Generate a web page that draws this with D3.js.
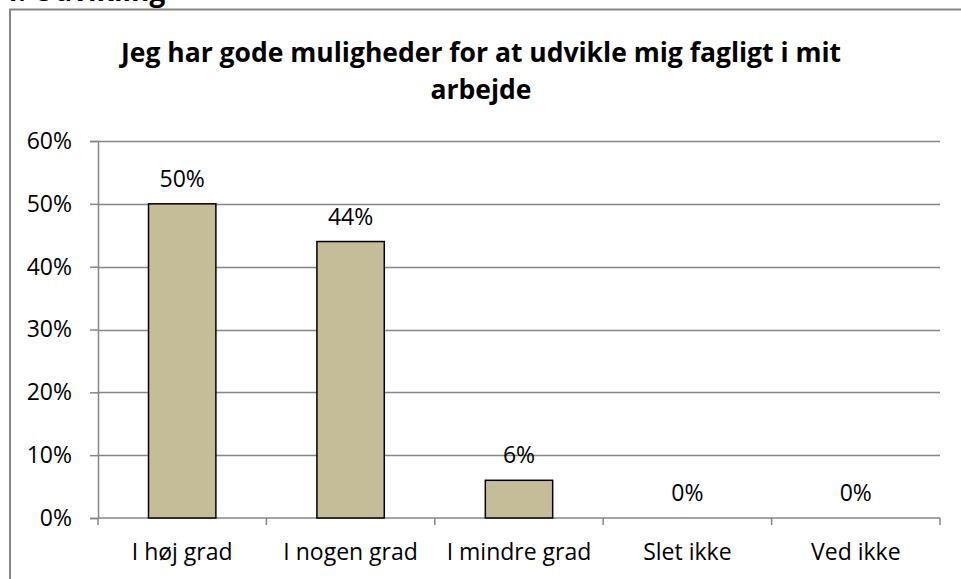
<!DOCTYPE html>
<html>
<head>
<meta charset="utf-8">
<script src="https://cdn.jsdelivr.net/npm/d3@7"></script>
<style>
  html, body { margin: 0; padding: 0; background: #fff; }
  svg { display: block; font-family: "Open Sans", sans-serif; }
</style>
</head>
<body>
<svg id="chart" width="961" height="579"></svg>
<script>
const categories = ["I høj grad", "I nogen grad", "I mindre grad", "Slet ikke", "Ved ikke"];
const values = [0.50, 0.44, 0.06, 0.00, 0.00];
const yTicks = [0, 0.1, 0.2, 0.3, 0.4, 0.5, 0.6];
const titleLines = ["Jeg har gode muligheder for at udvikle mig fagligt i mit", "arbejde"];
const sectionHeading = "4. Udvikling";

const svg = d3.select("#chart");
const W = 961, H = 579;
const plot = { left: 98, right: 940, top: 141, bottom: 518 };

// section heading cut off at top
svg.append("text")
  .attr("x", 2).attr("y", 1)
  .attr("font-size", 28).attr("font-weight", "bold").attr("fill", "#000")
  .text(sectionHeading);

// frame
svg.append("rect")
  .attr("x", 10).attr("y", 9.5)
  .attr("width", W + 20).attr("height", H + 20)
  .attr("fill", "#fff").attr("stroke", "#868686").attr("stroke-width", 2);

// title
const title = svg.append("text")
  .attr("text-anchor", "middle")
  .attr("font-size", 26.5).attr("font-weight", "bold").attr("fill", "#000");
titleLines.forEach((t, i) => {
  title.append("tspan").attr("x", 481).attr("y", 62 + i * 37).text(t);
});

const x = d3.scaleBand().domain(categories).range([plot.left, plot.right]).paddingInner(0.6).paddingOuter(0.3);
const xb = d3.scaleBand().domain(categories).range([plot.left, plot.right]).padding(0);
const y = d3.scaleLinear().domain([0, 0.6]).range([plot.bottom, plot.top]);

// gridlines
svg.append("g")
  .selectAll("line")
  .data(yTicks.filter(d => d > 0))
  .join("line")
  .attr("x1", plot.left).attr("x2", plot.right)
  .attr("y1", d => Math.round(y(d)) + 0.5).attr("y2", d => Math.round(y(d)) + 0.5)
  .attr("stroke", "#868686").attr("stroke-width", 1.5);

// y axis
const yAxis = svg.append("g")
  .attr("transform", `translate(${plot.left},0)`)
  .call(d3.axisLeft(y).tickValues(yTicks).tickFormat(d3.format(".0%")).tickSize(8).tickPadding(18));
yAxis.select(".domain").attr("stroke", "#868686").attr("stroke-width", 1.5);
yAxis.selectAll(".tick line").attr("stroke", "#868686").attr("stroke-width", 1.5);
yAxis.selectAll(".tick text").attr("font-size", 23).attr("fill", "#000").attr("font-family", "'Open Sans', sans-serif");

// x axis
const xAxisG = svg.append("g").attr("transform", `translate(0,${plot.bottom})`);
xAxisG.append("line")
  .attr("x1", plot.left).attr("x2", plot.right)
  .attr("y1", 0).attr("y2", 0)
  .attr("stroke", "#868686").attr("stroke-width", 1.5);
const boundaries = categories.map(c => xb(c)).concat([plot.right]);
xAxisG.selectAll("line.tick")
  .data(boundaries)
  .join("line").attr("class", "tick")
  .attr("x1", d => d).attr("x2", d => d)
  .attr("y1", 0).attr("y2", 7)
  .attr("stroke", "#868686").attr("stroke-width", 1.5);
xAxisG.selectAll("text")
  .data(categories)
  .join("text")
  .attr("x", d => xb(d) + xb.bandwidth() / 2)
  .attr("y", 42)
  .attr("text-anchor", "middle")
  .attr("font-size", 23).attr("fill", "#000")
  .text(d => d);

// bars
svg.append("g")
  .selectAll("rect")
  .data(categories.map((c, i) => ({ c, v: values[i] })))
  .join("rect")
  .attr("x", d => x(d.c))
  .attr("y", d => y(d.v))
  .attr("width", x.bandwidth())
  .attr("height", d => y(0) - y(d.v))
  .attr("fill", "#C4BD97")
  .attr("stroke", "#000").attr("stroke-width", 1.5)
  .attr("display", d => d.v > 0 ? null : "none");

// data labels
svg.append("g")
  .selectAll("text")
  .data(categories.map((c, i) => ({ c, v: values[i] })))
  .join("text")
  .attr("x", d => xb(d.c) + xb.bandwidth() / 2)
  .attr("y", d => y(d.v) - 17)
  .attr("text-anchor", "middle")
  .attr("font-size", 23).attr("fill", "#000")
  .text(d => d3.format(".0%")(d.v));
</script>
</body>
</html>
